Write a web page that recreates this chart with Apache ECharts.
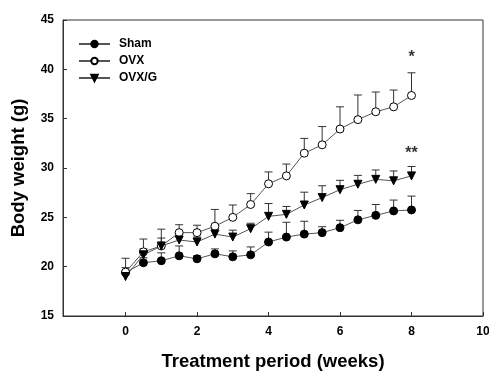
<!DOCTYPE html>
<html>
<head>
<meta charset="utf-8">
<script src="https://cdn.jsdelivr.net/npm/echarts@6/dist/echarts.min.js"></script>
<style>
  html, body { margin: 0; padding: 0; background: #fff; }
  #chart { width: 489px; height: 371px; }
</style>
</head>
<body>
<div id="chart"></div>
<script>
// weeks of treatment
const weeks = [0, 0.5, 1, 1.5, 2, 2.5, 3, 3.5, 4, 4.5, 5, 5.5, 6, 6.5, 7, 7.5, 8];

// body weight (g), mean and upper error
const sham = [19.4, 20.4, 20.6, 21.1, 20.8, 21.3, 21.0, 21.2, 22.5, 23.0, 23.3, 23.45, 23.95, 24.75, 25.2, 25.65, 25.75];
const shamErr = [0.5, 0.5, 0.8, 1.0, 0.3, 0.5, 0.6, 0.8, 1.0, 1.5, 1.3, 0.6, 0.75, 0.95, 1.1, 1.1, 1.4];
const ovx = [19.45, 21.5, 22.1, 23.45, 23.45, 24.1, 25.0, 26.3, 28.4, 29.2, 31.5, 32.35, 33.95, 34.9, 35.7, 36.2, 37.35];
const ovxErr = [1.4, 1.3, 1.7, 0.8, 0.75, 1.7, 1.25, 1.1, 1.2, 1.2, 1.5, 1.85, 2.25, 2.5, 2.0, 1.7, 2.3];
const ovxg = [19.0, 21.2, 22.1, 22.7, 22.5, 23.3, 23.0, 23.85, 25.1, 25.3, 26.25, 27.0, 27.8, 28.35, 28.85, 28.7, 29.2];
const ovxgErr = [0.4, 0.6, 0.8, 0.6, 0.5, 0.5, 0.7, 0.55, 1.3, 0.8, 1.3, 1.2, 0.95, 0.9, 0.95, 1.0, 0.95];

const xTicks = [0, 2, 4, 6, 8, 10];
const yTicks = [15, 20, 25, 30, 35, 40, 45];

// significance marks at week 8
const markLabels = ["*", "**"];
const markX = [8, 8];
const markY = [41.2, 31.45];

const font = "Liberation Sans, Arial, sans-serif";
const chart = echarts.init(document.getElementById("chart"));

const pairs = (ys) => weeks.map((w, i) => [w, ys[i]]);
const errPairs = (ys, es) => weeks.map((w, i) => [w, ys[i], es[i]]);

// error bar: vertical line up + cap
const errorBar = (params, api) => {
  const x = api.value(0);
  const y = api.value(1);
  const e = api.value(2);
  const p0 = api.coord([x, y]);
  const p1 = api.coord([x, y + e]);
  const style = { stroke: "#333", lineWidth: 1 };
  return {
    type: "group",
    children: [
      { type: "line", shape: { x1: p0[0], y1: p0[1], x2: p1[0], y2: p1[1] }, style },
      { type: "line", shape: { x1: p1[0] - 4, y1: p1[1], x2: p1[0] + 4, y2: p1[1] }, style }
    ]
  };
};

const lineSeries = (name, ys, symbol, fill, rotate) => ({
  name,
  type: "line",
  data: pairs(ys),
  symbol,
  symbolSize: 8,
  symbolRotate: rotate || 0,
  showAllSymbol: true,
  z: 3,
  lineStyle: { color: "#555", width: 1 },
  itemStyle: { color: fill, borderColor: "#000", borderWidth: 1 }
});

const errSeries = (ys, es) => ({
  type: "custom",
  renderItem: errorBar,
  data: errPairs(ys, es),
  encode: { x: 0, y: 1 },
  z: 2,
  silent: true
});

const option = {
  animation: false,
  grid: {
    left: 63, right: 6, top: 20, bottom: 55,
    outerBoundsMode: "none",
    containLabel: false,
    show: true, borderColor: "#333", borderWidth: 1
  },
  legend: {
    orient: "vertical",
    left: 73,
    top: 33,
    itemWidth: 31,
    itemHeight: 8,
    itemGap: 5,
    data: ["Sham", "OVX", "OVX/G"],
    textStyle: { fontFamily: font, fontWeight: "bold", fontSize: 12, color: "#000", padding: [0, 0, 0, 4] }
  },
  xAxis: {
    type: "value",
    min: -1.75,
    max: 10,
    name: "Treatment period (weeks)",
    nameLocation: "middle",
    nameGap: 36,
    nameTextStyle: { fontFamily: font, fontWeight: "bold", fontSize: 18.5, color: "#000" },
    splitLine: { show: false },
    axisLine: { onZero: false, lineStyle: { color: "#333" } },
    axisTick: { inside: true, length: 4, customValues: xTicks, lineStyle: { color: "#333" } },
    axisLabel: { customValues: xTicks, margin: 10, fontFamily: font, fontWeight: "bold", fontSize: 12, color: "#000" }
  },
  yAxis: {
    type: "value",
    min: 15,
    max: 45,
    interval: 5,
    name: "Body weight (g)",
    nameLocation: "middle",
    nameGap: 35,
    nameTextStyle: { fontFamily: font, fontWeight: "bold", fontSize: 18.5, color: "#000" },
    splitLine: { show: false },
    axisLine: { show: true, onZero: false, lineStyle: { color: "#333" } },
    axisTick: { show: true, inside: true, length: 4, customValues: yTicks, lineStyle: { color: "#333" } },
    axisLabel: { customValues: yTicks, margin: 9, fontFamily: font, fontWeight: "bold", fontSize: 12, color: "#000" }
  },
  series: [
    errSeries(sham, shamErr),
    errSeries(ovx, ovxErr),
    errSeries(ovxg, ovxgErr),
    lineSeries("Sham", sham, "circle", "#000"),
    lineSeries("OVX", ovx, "circle", "#fff"),
    lineSeries("OVX/G", ovxg, "triangle", "#000", 180),
    {
      type: "scatter",
      data: markX.map((x, i) => [x, markY[i]]),
      symbolSize: 2,
      itemStyle: { color: "rgba(0,0,0,0)" },
      silent: true,
      z: 4,
      label: {
        show: true,
        position: "inside",
        formatter: (p) => markLabels[p.dataIndex],
        fontFamily: font,
        fontWeight: "bold",
        fontSize: 16,
        color: "#000"
      }
    }
  ]
};

chart.setOption(option);
</script>
</body>
</html>
